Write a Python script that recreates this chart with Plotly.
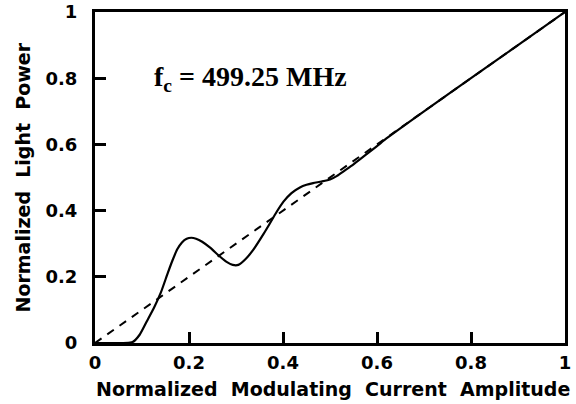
import plotly.graph_objects as go

# Measured response (solid) and ideal linear response (dashed)
current_amp = [0, 0.08, 0.095, 0.11, 0.125, 0.14, 0.155, 0.165, 0.175, 0.185, 0.195,
               0.205, 0.215, 0.228, 0.245, 0.265, 0.28, 0.293, 0.305, 0.32, 0.337,
               0.358, 0.372, 0.386, 0.401, 0.418, 0.436, 0.45, 0.464, 0.482, 0.5,
               0.515, 0.528, 0.55, 0.571, 0.6, 0.62, 0.7, 0.8, 0.9, 1.0]
light_power = [0, 0.003, 0.025, 0.065, 0.105, 0.152, 0.212, 0.25, 0.283, 0.304, 0.315,
               0.318, 0.315, 0.306, 0.288, 0.262, 0.245, 0.236, 0.236, 0.253, 0.282,
               0.328, 0.361, 0.395, 0.427, 0.453, 0.470, 0.478, 0.483, 0.488, 0.494,
               0.505, 0.518, 0.54, 0.563, 0.595, 0.618, 0.70, 0.80, 0.90, 1.0]
ideal_x = [0, 1]
ideal_y = [0, 1]

tick_vals = [0, 0.2, 0.4, 0.6, 0.8, 1]
tick_text = ["0", "0.2", "0.4", "0.6", "0.8", "1"]

fig = go.Figure()
fig.add_trace(go.Scatter(x=ideal_x, y=ideal_y, mode="lines",
                         line=dict(color="black", width=2, dash="8px,7px")))
fig.add_trace(go.Scatter(x=current_amp, y=light_power, mode="lines",
                         line=dict(color="black", width=2.2, shape="spline", smoothing=0.5)))

tick_font = dict(family="DejaVu Sans", size=18, color="black", weight="bold")
title_font = dict(family="DejaVu Sans", size=19, color="black", weight="bold")

axis_common = dict(
    range=[0, 1], tickvals=tick_vals, ticktext=tick_text,
    showline=True, linewidth=3, linecolor="black", mirror=True,
    ticks="inside", ticklen=11, tickwidth=2.5, tickcolor="black",
    showgrid=False, zeroline=False, tickfont=tick_font, automargin=False,
)

fig.update_xaxes(**axis_common, ticklabelstandoff=1)
fig.update_yaxes(**axis_common, ticklabelstandoff=11)

# Axis titles placed as paper-anchored annotations
fig.add_annotation(x=0.5, y=0, xref="paper", yref="paper", yanchor="top",
                   yshift=-33, xshift=3, showarrow=False,
                   text="Normalized  Modulating  Current  Amplitude", font=title_font)
fig.add_annotation(x=0, y=0.5, xref="paper", yref="paper", xanchor="right",
                   xshift=-60, showarrow=False, textangle=-90,
                   text="Normalized  Light  Power", font=title_font)

fig.add_annotation(x=0.33, y=0.80, xref="x", yref="y", showarrow=False,
                   text="<b>f<sub>c</sub> = 499.25 MHz</b>",
                   font=dict(family="Liberation Serif, Times New Roman, serif",
                             size=28, color="black"))

fig.update_layout(
    width=576, height=404,
    margin=dict(l=95, r=11, t=12, b=61),
    paper_bgcolor="white", plot_bgcolor="white",
    showlegend=False,
)

fig.write_html("out.html")
